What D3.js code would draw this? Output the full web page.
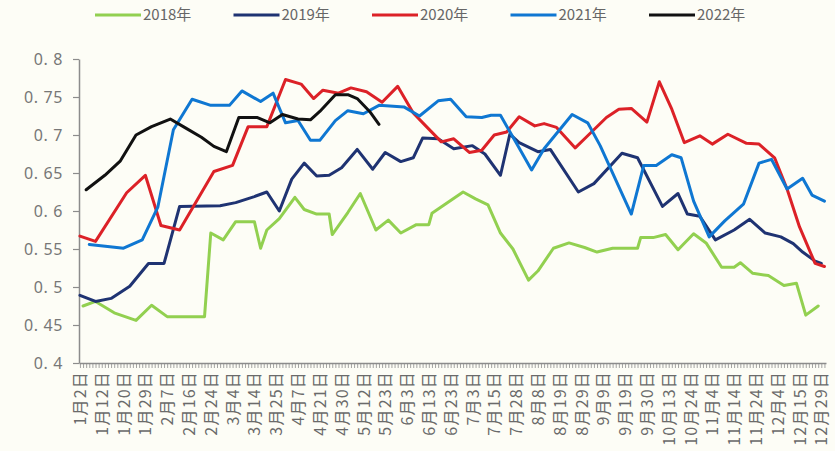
<!DOCTYPE html>
<html><head><meta charset="utf-8">
<script src="https://cdn.jsdelivr.net/npm/d3@7"></script>
<style>body{margin:0;background:#fdfdf6;} svg{display:block;background:#fdfdf6;}</style>
</head><body><svg id="c" width="835" height="451"></svg>
<script>
// ---- data ----
const tickLabels = ["1月2日","1月12日","1月20日","1月29日","2月7日","2月16日","2月24日","3月4日","3月14日","3月25日","4月7日","4月21日","4月30日","5月12日","5月23日","6月3日","6月13日","6月23日","7月3日","7月15日","7月28日","8月8日","8月19日","8月29日","9月9日","9月19日","9月30日","10月13日","10月24日","11月4日","11月14日","11月24日","12月4日","12月15日","12月29日"];
const labelStep = 7;      // one label every 7 trading-day categories
const dayCount = 240;     // categories on the x axis
const yTicks = [0.4, 0.45, 0.5, 0.55, 0.6, 0.65, 0.7, 0.75, 0.8];
const seriesNames = ["2018年","2019年","2020年","2021年","2022年"];
const seriesColors = ["#92d050","#1f3372","#dc2127","#0f77d2","#111111"];

// [category index, value]
const s2018 = [[1,.475],[5,.481],[11,.466],[18,.456],[23,.476],[28,.461],[40,.461],[42,.571],[46,.562],[50,.586],[56,.586],[58,.551],[60,.575],[64,.590],[69,.618],[72,.602],[76,.596],[80,.596],[81,.569],[86,.598],[90,.623],[95,.575],[99,.588],[103,.571],[108,.582],[112,.582],[113,.597],[123,.625],[127,.616],[131,.608],[135,.571],[139,.550],[144,.509],[147,.521],[152,.551],[157,.558],[162,.552],[166,.546],[171,.551],[179,.551],[180,.565],[184,.565],[188,.569],[192,.549],[197,.570],[201,.558],[206,.526],[210,.526],[212,.532],[216,.518],[221,.515],[226,.502],[230,.505],[233,.463],[237,.475]];
const s2019 = [[0,.489],[5,.481],[10,.485],[16,.501],[22,.531],[27,.531],[32,.606],[45,.607],[50,.611],[56,.619],[60,.625],[64,.600],[68,.642],[72,.663],[76,.646],[80,.647],[84,.657],[89,.681],[94,.655],[98,.677],[103,.665],[107,.670],[110,.696],[115,.695],[120,.682],[126,.686],[130,.675],[135,.647],[138,.701],[141,.690],[147,.678],[151,.681],[160,.625],[165,.636],[174,.676],[179,.670],[187,.606],[192,.623],[195,.596],[199,.593],[204,.562],[210,.575],[215,.589],[220,.571],[225,.566],[229,.557],[232,.546],[236,.534],[238,.531]];
const s2020 = [[0,.567],[5,.560],[15,.624],[21,.647],[26,.581],[32,.575],[43,.652],[49,.660],[54,.711],[60,.711],[66,.773],[71,.767],[75,.748],[78,.759],[83,.755],[87,.762],[92,.757],[97,.743],[102,.764],[107,.729],[111,.712],[116,.691],[120,.695],[125,.677],[129,.680],[133,.700],[137,.704],[141,.724],[146,.712],[149,.715],[153,.710],[159,.683],[163,.699],[169,.723],[173,.734],[177,.735],[182,.717],[186,.770],[190,.734],[194,.690],[199,.699],[203,.688],[208,.701],[214,.689],[218,.688],[223,.670],[227,.629],[231,.579],[236,.531],[239,.527]];
const s2021 = [[3,.556],[14,.551],[20,.562],[25,.605],[30,.707],[36,.747],[42,.739],[48,.739],[52,.758],[58,.744],[62,.755],[66,.716],[70,.719],[74,.693],[77,.693],[82,.719],[86,.732],[91,.728],[96,.739],[104,.737],[109,.725],[115,.745],[119,.747],[124,.724],[129,.723],[132,.726],[135,.726],[140,.690],[145,.654],[149,.682],[158,.727],[163,.716],[167,.686],[177,.596],[181,.660],[185,.660],[190,.674],[193,.670],[197,.613],[202,.566],[207,.587],[213,.609],[218,.663],[222,.668],[227,.629],[232,.643],[235,.621],[239,.613]];
const s2022 = [[2,.628],[8,.647],[13,.666],[18,.700],[23,.711],[29,.721],[34,.709],[39,.697],[43,.685],[47,.678],[51,.723],[57,.723],[61,.716],[65,.727],[70,.721],[74,.720],[77,.731],[82,.753],[86,.753],[89,.748],[93,.731],[96,.714]];
const allSeries = [s2018, s2019, s2020, s2021, s2022];

// ---- chart ----
const svg = d3.select("#c");
const x = d3.scaleLinear().domain([-0.3, dayCount - 0.5]).range([79, 826]);
const y = d3.scaleLinear().domain([0.4, 0.8]).range([363, 59]);
const axisColor = "#8c8c8c", textColor = "#777";

// y axis
const ya = svg.append("g").attr("transform", `translate(${x.range()[0]},0)`)
  .call(d3.axisLeft(y).tickValues(yTicks).tickSize(6).tickSizeOuter(0).tickPadding(10)
    .tickFormat(d => String(d).replace(".", ". ")));
ya.select(".domain").attr("stroke", axisColor).attr("stroke-width", 1.5);
ya.selectAll(".tick line").attr("stroke", axisColor).attr("stroke-width", 1.2);
ya.selectAll("text").attr("fill", textColor).style("font-family", "'Noto Sans', 'DejaVu Sans', sans-serif").style("font-size", "16px").attr("letter-spacing", "0.6px");

// x axis
const xa = svg.append("g").attr("transform", `translate(0,${y.range()[0]})`)
  .call(d3.axisBottom(x).tickValues(d3.range(dayCount)).tickSize(5).tickSizeOuter(0)
    .tickFormat(i => i % labelStep === 0 ? (tickLabels[i / labelStep] || "") : ""));
xa.select(".domain").attr("stroke", axisColor).attr("stroke-width", 1.5);
xa.selectAll(".tick line").attr("stroke", axisColor).attr("stroke-width", 0.8);
xa.selectAll("text")
  .attr("fill", "#6a6a6a")
  .style("font-family", "'Noto Sans CJK SC', sans-serif").style("font-size", "16px")
  .attr("letter-spacing", "1.2px")
  .attr("transform", "rotate(-90)")
  .attr("x", -8).attr("y", 0).attr("dy", "0.35em")
  .style("text-anchor", "end");

// lines
const line = d3.line().x(d => x(d[0])).y(d => y(d[1]));
svg.append("g").selectAll("path").data(allSeries).join("path")
  .attr("d", line).attr("fill", "none")
  .attr("stroke", (d, i) => seriesColors[i])
  .attr("stroke-width", 3).attr("stroke-linejoin", "round").attr("stroke-linecap", "round");

// legend
const lg = svg.append("g");
const lgItems = lg.selectAll("g").data(seriesNames).join("g")
  .attr("transform", (d, i) => `translate(${95 + i * 138.5},15)`);
lgItems.append("line").attr("x1", 0).attr("x2", 46).attr("y1", 0).attr("y2", 0)
  .attr("stroke", (d, i) => seriesColors[i]).attr("stroke-width", 3);
lgItems.append("text").attr("x", 48).attr("y", 0).attr("dy", "0.35em")
  .attr("fill", "#666").style("font-family", "'Noto Sans CJK SC', sans-serif").style("font-size", "15px")
  .text(d => d);
</script></body></html>
